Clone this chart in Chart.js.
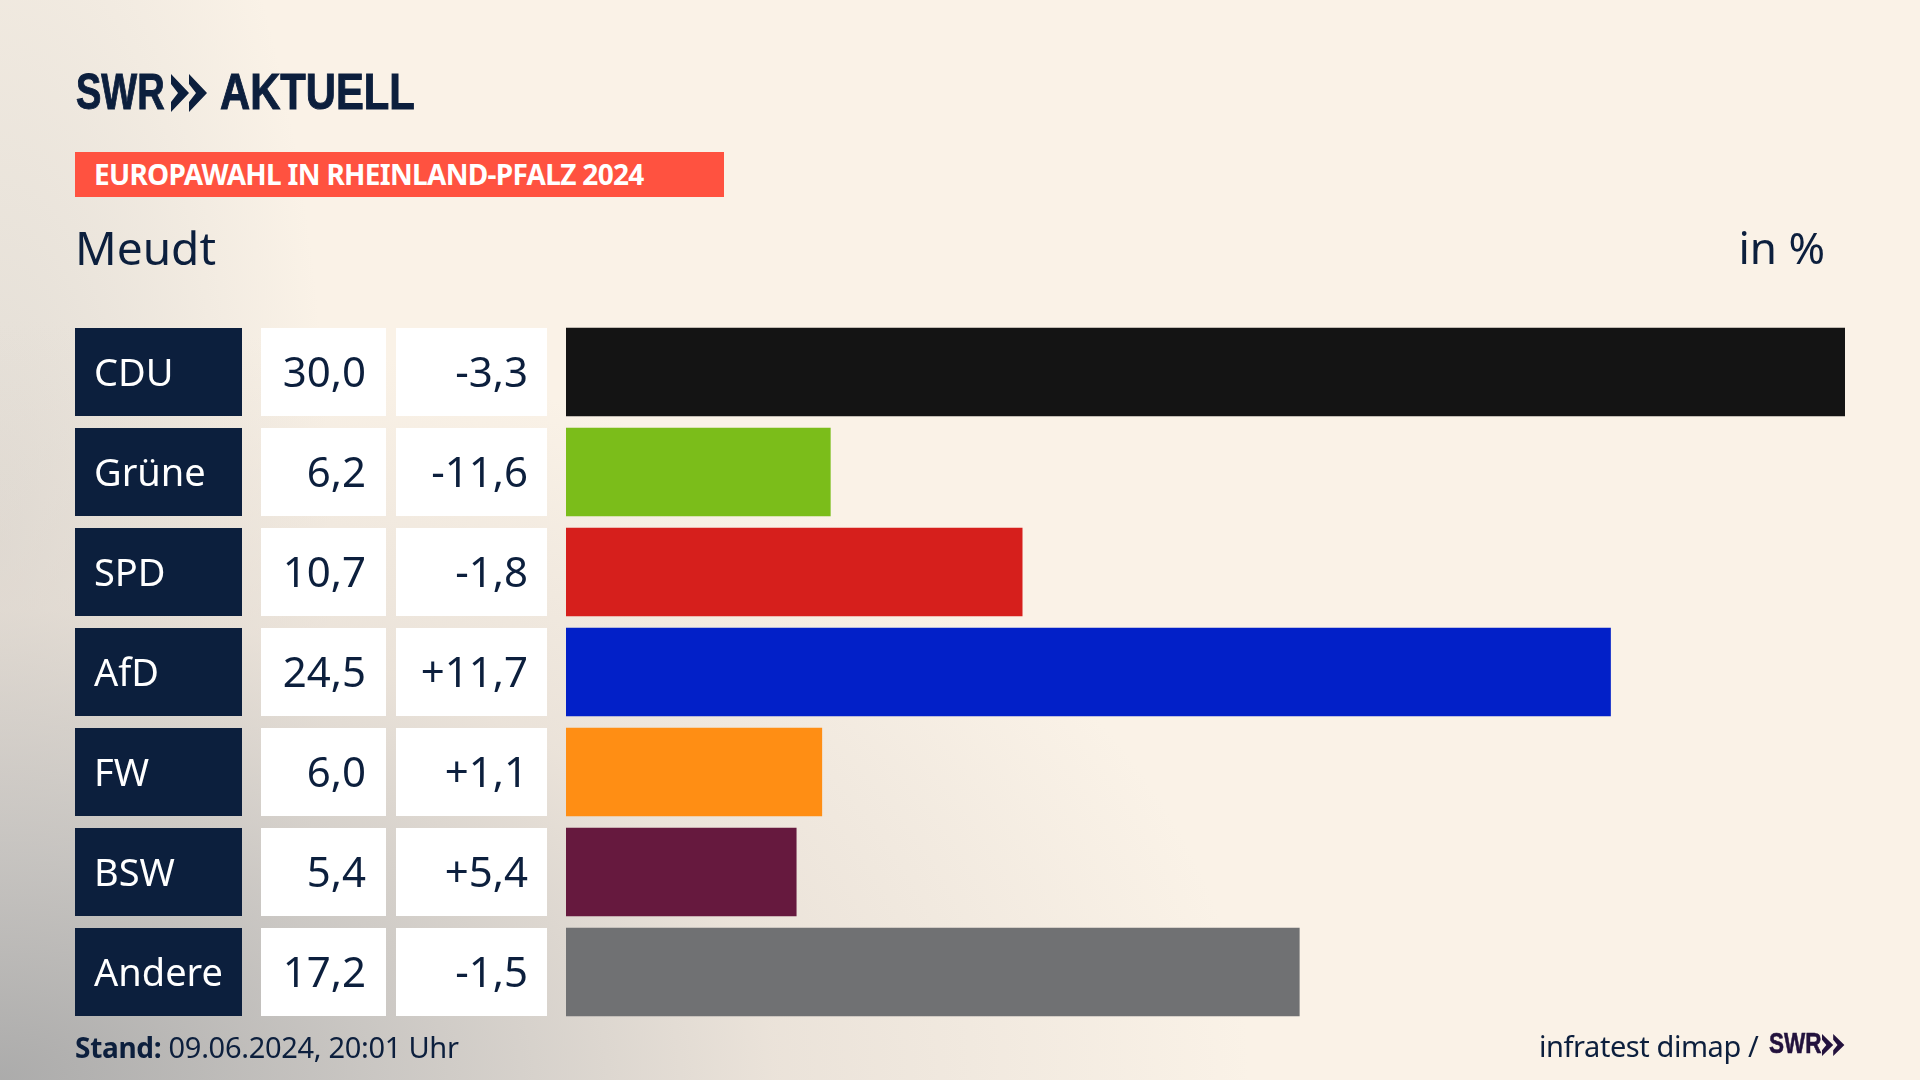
<!DOCTYPE html>
<html lang="de">
<head>
<meta charset="utf-8">
<title>Europawahl Meudt</title>
<script src="https://cdn.jsdelivr.net/npm/chart.js@4"></script>
<style>
html,body{margin:0;padding:0;width:1920px;height:1080px;overflow:hidden;background-color:#faf2e7}
body{position:relative;font-family:"Noto Sans",sans-serif;color:#0c1f3d;
background-image:
 radial-gradient(ellipse 1250px 760px at 0 100%,rgba(168,168,168,.95) 0%,rgba(190,188,186,.8) 30%,rgba(222,214,206,.55) 62%,rgba(250,242,231,0) 100%),
 radial-gradient(ellipse 330px 900px at 0 50%,rgba(200,198,194,.5) 0%,rgba(250,242,231,0) 100%);}
canvas{position:absolute;left:0;top:0}
.t{position:absolute;white-space:nowrap;line-height:1}
.logo{font-family:"Liberation Sans",sans-serif;font-weight:700;font-size:50px;color:#0c1f3d;transform-origin:0 0;-webkit-text-stroke:1px #0c1f3d}
svg{position:absolute}
</style>
</head>
<body>
<canvas id="c" width="1920" height="1080"></canvas>
<div class="t logo" style="left:76px;top:67px;transform:scaleX(.76)">SWR</div>
<svg style="left:171px;top:74px" width="37" height="38" viewBox="0 0 37 38"><path d="M0 0 L18 19 L0 38 L0 28 L7 19 L0 10 Z M18 0 L36 19 L18 38 L18 28 L25 19 L18 10 Z" fill="#0c1f3d"/></svg>
<div class="t logo" style="left:220px;top:67px;transform:scaleX(.835)">AKTUELL</div>
<div class="t" style="left:75px;top:152px;width:649px;height:45px;background:#ff5240"></div>
<div class="t" style="left:94px;top:160px;font-size:28px;font-weight:700;color:#fff;letter-spacing:-.7px">EUROPAWAHL IN RHEINLAND-PFALZ 2024</div>
<div class="t" style="left:75px;top:224px;font-size:46px">Meudt</div>
<div class="t" style="right:95px;top:225px;font-size:44px">in %</div>
<div class="t" style="left:75px;top:1032px;font-size:29px;letter-spacing:-.3px"><b style="font-size:28px">Stand:</b> 09.06.2024, 20:01 Uhr</div>
<div class="t" style="left:1539px;top:1031px;font-size:29px;letter-spacing:-.43px">infratest dimap /</div>
<div class="t" style="left:1769px;top:1028px;font-family:'Liberation Sans';font-weight:700;font-size:30px;color:#23123d;transform-origin:0 0;transform:scaleX(.75);-webkit-text-stroke:.6px #23123d">SWR</div>
<svg style="left:1822px;top:1034px" width="23" height="22" viewBox="0 0 37 38" preserveAspectRatio="none"><path d="M0 0 L18 19 L0 38 L0 28 L7 19 L0 10 Z M18 0 L36 19 L18 38 L18 28 L25 19 L18 10 Z" fill="#23123d"/></svg>
<script>
const parties = ["CDU","Grüne","SPD","AfD","FW","BSW","Andere"];
const shares = [30.0,6.2,10.7,24.5,6.0,5.4,17.2];
const changes = [-3.3,-11.6,-1.8,11.7,1.1,5.4,-1.5];
const barColors = ["#141414","#7bbd1a","#d61f1c","#0220c8","#ff8e14","#66193e","#707173"];

const navy = "#0c1f3d";
const fmt = v => v.toFixed(1).replace(".", ",");
const fmtChange = v => (v > 0 ? "+" : "") + fmt(v);

const tablePlugin = {
  id: "table",
  beforeDraw(chart) {
    const {ctx, scales:{y}} = chart;
    const h = chart.getDatasetMeta(0).data[0].height;
    ctx.save();
    ctx.textBaseline = "middle";
    ctx.textAlign = "right";
    ctx.font = '42px "Noto Sans"';
    parties.forEach((p,i) => {
      const cy = y.getPixelForValue(i), top = cy - h/2;
      ctx.fillStyle = navy;    ctx.fillRect(75, top, 167, h);
      ctx.fillStyle = "#fff";  ctx.fillRect(261, top, 125, h);
      ctx.fillRect(396, top, 151, h);
      ctx.fillStyle = navy;
      ctx.fillText(fmt(shares[i]), 366, cy + 3);
      ctx.fillText(fmtChange(changes[i]), 528, cy + 3);
    });
    ctx.restore();
  }
};

new Chart(document.getElementById("c"), {
  type: "bar",
  data: { labels: parties, datasets: [{ data: shares, backgroundColor: barColors, barThickness: 88, borderWidth: 0 }] },
  options: {
    indexAxis: "y",
    responsive: false,
    animation: false,
    devicePixelRatio: 1,
    layout: { padding: { left: 94, right: 75, top: 322, bottom: 58 } },
    plugins: { legend: {display:false}, tooltip: {enabled:false}, title: {display:false} },
    scales: {
      x: { display:false, min:0, max:30 },
      y: {
        afterFit(s){ s.width = 472; },
        grid: {display:false}, border: {display:false},
        ticks: { crossAlign:"far", color:"#fff", padding:0, z:1, labelOffset:3, font:{family:"Noto Sans", size:38} }
      }
    }
  },
  plugins: [tablePlugin]
});
</script>
</body>
</html>
